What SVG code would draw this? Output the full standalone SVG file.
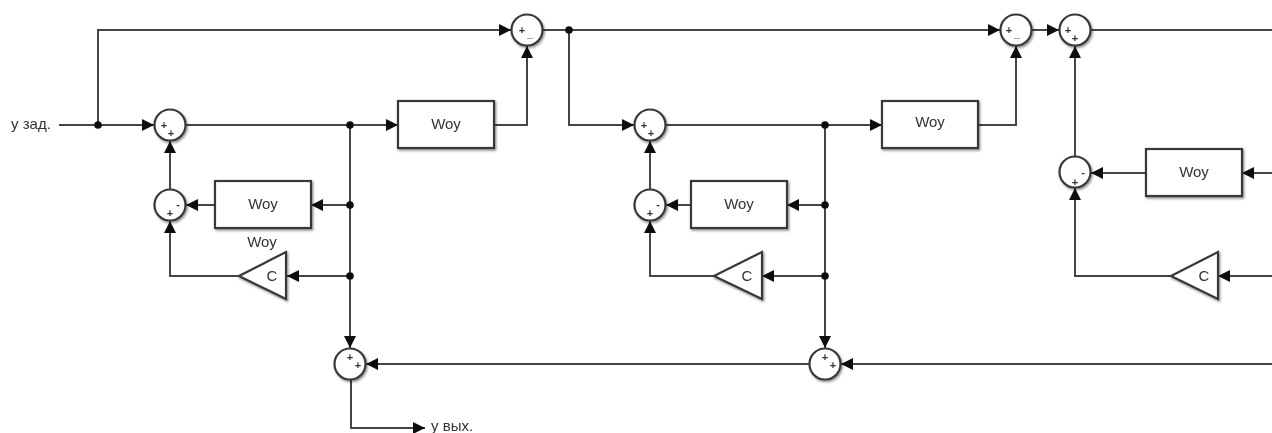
<svg xmlns="http://www.w3.org/2000/svg" width="1272" height="433" viewBox="0 0 1272 433">
<style>
text{font-family:"Liberation Sans",Arial,sans-serif;fill:#333}
.w{fill:none;stroke:#444;stroke-width:2}
.a{marker-end:url(#ah)}
.b,.s,.t{fill:#fff;stroke:#383838;stroke-width:2.2;filter:url(#sh)}
.l{font-size:15px;text-anchor:middle}
.g{font-size:11px;font-weight:bold;text-anchor:middle}
.d{fill:#111}
.lab{font-size:15px}
</style>
<defs>
<marker id="ah" markerUnits="userSpaceOnUse" markerWidth="13" markerHeight="13" refX="12" refY="6.5" orient="auto"><path d="M0,0.5L12,6.5L0,12.5Z" fill="#0c0c0c"/></marker>
<filter id="sh" x="-20%" y="-20%" width="150%" height="150%"><feDropShadow dx="1.2" dy="1.6" stdDeviation="1.3" flood-color="#000" flood-opacity=".45"/></filter>
<filter id="soft" filterUnits="userSpaceOnUse" x="0" y="0" width="1272" height="433"><feGaussianBlur stdDeviation="0.4"/></filter>
</defs>
<g filter="url(#soft)">
<g id="connectors">
<path class="w a" d="M59,125H154"/>
<path class="w a" d="M98,125V30H511"/>
<path class="w a" d="M186,125H398"/>
<path class="w a" d="M494,125H527V46"/>
<path class="w" d="M543,30H569"/>
<path class="w a" d="M569,30H1000"/>
<path class="w a" d="M569,30V125H634"/>
<path class="w a" d="M666,125H882"/>
<path class="w a" d="M978,125H1016V46"/>
<path class="w a" d="M1032,30H1059"/>
<path class="w" d="M1091,30H1272"/>
<path class="w a" d="M350,125V348"/>
<path class="w a" d="M350,205H311"/>
<path class="w a" d="M350,276H287"/>
<path class="w a" d="M215,205H186"/>
<path class="w a" d="M170,189V141"/>
<path class="w a" d="M239,276H170V221"/>
<path class="w a" d="M825,125V348"/>
<path class="w a" d="M825,205H787"/>
<path class="w a" d="M825,276H762"/>
<path class="w a" d="M691,205H666"/>
<path class="w a" d="M650,189V141"/>
<path class="w a" d="M714,276H650V221"/>
<path class="w a" d="M1075,156V46"/>
<path class="w a" d="M1146,173H1091"/>
<path class="w a" d="M1272,173H1242"/>
<path class="w a" d="M1171,276H1075V188"/>
<path class="w a" d="M1272,276H1218"/>
<path class="w a" d="M1272,364H841"/>
<path class="w a" d="M809,364H366"/>
<path class="w a" d="M351,380V428H425"/>
<circle class="d" cx="98" cy="125" r="3.8"/>
<circle class="d" cx="350" cy="125" r="3.8"/>
<circle class="d" cx="350" cy="205" r="3.8"/>
<circle class="d" cx="350" cy="276" r="3.8"/>
<circle class="d" cx="569" cy="30" r="3.8"/>
<circle class="d" cx="825" cy="125" r="3.8"/>
<circle class="d" cx="825" cy="205" r="3.8"/>
<circle class="d" cx="825" cy="276" r="3.8"/>
</g>
<g id="sum1"><circle class="s" cx="527" cy="30" r="15.5"/><text class="g" x="522" y="34">+</text><text class="g" x="530" y="37">_</text></g>
<g id="sum2"><circle class="s" cx="170" cy="125" r="15.5"/><text class="g" x="164" y="129">+</text><text class="g" x="171" y="137">+</text></g>
<g id="sum3"><circle class="s" cx="170" cy="205" r="15.5"/><text class="g" x="178" y="208">-</text><text class="g" x="170" y="217">+</text></g>
<g id="sum4"><circle class="s" cx="650" cy="125" r="15.5"/><text class="g" x="644" y="129">+</text><text class="g" x="651" y="137">+</text></g>
<g id="sum5"><circle class="s" cx="650" cy="205" r="15.5"/><text class="g" x="658" y="208">-</text><text class="g" x="650" y="217">+</text></g>
<g id="sum6"><circle class="s" cx="1016" cy="30" r="15.5"/><text class="g" x="1009" y="34">+</text><text class="g" x="1017" y="37">_</text></g>
<g id="sum7"><circle class="s" cx="1075" cy="30" r="15.5"/><text class="g" x="1068" y="34">+</text><text class="g" x="1075" y="42">+</text></g>
<g id="sum8"><circle class="s" cx="1075" cy="172" r="15.5"/><text class="g" x="1083" y="176">-</text><text class="g" x="1075" y="186">+</text></g>
<g id="sum9"><circle class="s" cx="350" cy="364" r="15.5"/><text class="g" x="350" y="361">+</text><text class="g" x="358" y="369">+</text></g>
<g id="sum10"><circle class="s" cx="825" cy="364" r="15.5"/><text class="g" x="825" y="361">+</text><text class="g" x="833" y="369">+</text></g>
<g id="box1"><rect class="b" x="398" y="101" width="96" height="47"/><text class="l" x="446" y="129">Woy</text></g>
<g id="box2"><rect class="b" x="215" y="181" width="96" height="47"/><text class="l" x="263" y="209">Woy</text></g>
<g id="box3"><rect class="b" x="882" y="101" width="96" height="47"/><text class="l" x="930" y="127">Woy</text></g>
<g id="box4"><rect class="b" x="691" y="181" width="96" height="47"/><text class="l" x="739" y="209">Woy</text></g>
<g id="box5"><rect class="b" x="1146" y="149" width="96" height="47"/><text class="l" x="1194" y="177">Woy</text></g>
<g id="gain1"><path class="t" d="M239,276L286,252V299Z"/><text class="l" x="272" y="281">C</text></g>
<g id="gain2"><path class="t" d="M714,276L762,252V299Z"/><text class="l" x="747" y="281">C</text></g>
<g id="gain3"><path class="t" d="M1171,276L1218,252V299Z"/><text class="l" x="1204" y="281">C</text></g>
<text class="l" x="262" y="247">Woy</text>
<text class="lab" x="11" y="129">y зад.</text>
<text class="lab" x="431" y="431">y вых.</text>
</g>
</svg>
